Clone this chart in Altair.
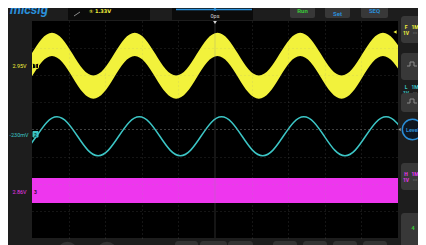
import altair as alt
import pandas as pd

# ---- waveform data (time in divisions, amplitude in divisions) ----
yellow_t = [-5.019, -4.736, -4.454, -4.171, -3.889, -3.606, -3.324, -3.041, -2.758, -2.476,
            -2.193, -1.911, -1.628, -1.345, -1.063, -0.780, -0.498, -0.215, 0.068, 0.350,
            0.633, 0.915, 1.198, 1.481, 1.763, 2.046, 2.328, 2.611, 2.894, 3.176,
            3.459, 3.741, 4.024, 4.306, 4.589, 4.872, 5.154]
yellow_v = [2.35, 2.91, 3.14, 2.91, 2.35, 1.79, 1.56, 1.79, 2.35, 2.91,
            3.14, 2.91, 2.35, 1.79, 1.56, 1.79, 2.35, 2.91, 3.14, 2.91,
            2.35, 1.79, 1.56, 1.79, 2.35, 2.91, 3.14, 2.91, 2.35, 1.79,
            1.56, 1.79, 2.35, 2.91, 3.14, 2.91, 2.35]

cyan_t = [-5.160, -4.879, -4.598, -4.317, -4.036, -3.755, -3.474, -3.193, -2.912, -2.631,
          -2.350, -2.069, -1.788, -1.507, -1.226, -0.945, -0.664, -0.383, -0.102, 0.179,
          0.460, 0.741, 1.022, 1.303, 1.584, 1.865, 2.146, 2.427, 2.708, 2.989,
          3.270, 3.551, 3.832, 4.113, 4.394, 4.675, 4.956, 5.237]
cyan_v = [-0.76, -0.25, 0.26, 0.47, 0.26, -0.25, -0.76, -0.97, -0.76, -0.25,
          0.26, 0.47, 0.26, -0.25, -0.76, -0.97, -0.76, -0.25, 0.26, 0.47,
          0.26, -0.25, -0.76, -0.97, -0.76, -0.25, 0.26, 0.47, 0.26, -0.25,
          -0.76, -0.97, -0.76, -0.25, 0.26, 0.47, 0.26, -0.25]

magenta_t = [-5.0, 5.0]
magenta_hi = [-1.79, -1.79]
magenta_lo = [-2.71, -2.71]

yellow_halfwidth = 0.43

ch_labels = ["2.95V", "-230mV", "2.86V"]
ch_numbers = ["1", "2", "3"]

YEL = "#f2f23c"
CYN = "#3cc6c6"
MAG = "#ee36ee"
BLUE = "#2a8ed8"
GREEN = "#38c838"
BTN = "#383838"
FONT = "Roboto"

OX, OY = 32, 21  # page position of plot origin

xs = alt.Scale(domain=[-5, 5], nice=False, zero=False)
ys = alt.Scale(domain=[-4, 4], nice=False, zero=False)
xa = alt.Axis(values=[-4, -3, -2, -1, 1, 2, 3, 4], labels=False, ticks=False, domain=False,
              title=None, grid=True, gridColor="#9a9a9a", gridOpacity=0.28,
              gridDash=[1, 3], zindex=1)
ya = alt.Axis(values=[-3, -2, -1, 1, 2, 3], labels=False, ticks=False, domain=False,
              title=None, grid=True, gridColor="#9a9a9a", gridOpacity=0.28,
              gridDash=[1, 3], zindex=1)

def X(f):
    return alt.X(f, type="quantitative", scale=xs, axis=xa)

def Y(f):
    return alt.Y(f, type="quantitative", scale=ys, axis=ya)

yellow = alt.Chart(pd.DataFrame({"t": yellow_t, "v": yellow_v})).transform_calculate(
    hi=f"datum.v + {yellow_halfwidth}", lo=f"datum.v - {yellow_halfwidth}"
).mark_area(color=YEL, interpolate="natural", clip=True).encode(
    x=X("t"), y=Y("hi"), y2="lo:Q")

cyan = alt.Chart(pd.DataFrame({"t": cyan_t, "v": cyan_v})).mark_line(
    color=CYN, strokeWidth=1.5, interpolate="natural", clip=True).encode(
    x=X("t"), y=Y("v"))

magenta = alt.Chart(pd.DataFrame({"t": magenta_t, "hi": magenta_hi, "lo": magenta_lo})).mark_area(
    color=MAG, clip=True).encode(x=X("t"), y=Y("hi"), y2="lo:Q")

vcenter = alt.Chart(pd.DataFrame({"t": [0]})).mark_rule(
    color="#8a8a8a", opacity=0.3, strokeWidth=1).encode(x=X("t"))
hcenter = alt.Chart(pd.DataFrame({"v": [0]})).mark_rule(
    color="#8a8a8a", opacity=0.45, strokeWidth=1, strokeDash=[2, 2]).encode(y=Y("v"))

D = alt.Data(values=[{"a": 1}])

def box(x1, y1, x2, y2, fill, r=0, stroke=None, sw=0):
    kw = dict(color=fill, cornerRadius=r)
    if stroke:
        kw.update(stroke=stroke, strokeWidth=sw)
    return alt.Chart(D).mark_rect(**kw).encode(
        x=alt.value(x1 - OX), x2=alt.value(x2 - OX),
        y=alt.value(y1 - OY), y2=alt.value(y2 - OY))

def txt(s, x, y, color, size, align="center", weight="normal", style="normal",
        font=FONT, baseline="middle"):
    return alt.Chart(D).mark_text(text=s, color=color, fontSize=size, align=align,
                                  baseline=baseline, fontWeight=weight, fontStyle=style,
                                  font=font).encode(x=alt.value(x - OX), y=alt.value(y - OY))

def seg(x1, y1, x2, y2, color, w=1):
    return alt.Chart(D).mark_rule(color=color, strokeWidth=w).encode(
        x=alt.value(x1 - OX), x2=alt.value(x2 - OX),
        y=alt.value(y1 - OY), y2=alt.value(y2 - OY))

def pt(x, y, shape, size, color, filled=True, sw=1):
    return alt.Chart(D).mark_point(shape=shape, size=size, color=color, filled=filled,
                                   strokeWidth=sw, opacity=1).encode(
        x=alt.value(x - OX), y=alt.value(y - OY))

def pulse(cx, cy, color="#8c8c8c"):
    return [seg(cx - 5, cy + 2, cx - 2, cy + 2, color), seg(cx - 2, cy + 2, cx - 2, cy - 2, color),
            seg(cx - 2, cy - 2, cx + 2, cy - 2, color), seg(cx + 2, cy - 2, cx + 2, cy + 2, color),
            seg(cx + 2, cy + 2, cx + 5, cy + 2, color)]

deco = []
# top bar
deco += [txt("micsig", 10, 14, BLUE, 13, align="left", weight="bold", style="italic",
             baseline="alphabetic")]
deco += [box(68, 0, 150, 20, "#0b0b0b"), seg(74, 16, 80, 12, "#8a8a8a"),
         txt("① 1.33V", 89, 10.5, YEL, 5, align="left", font="DejaVu Sans", weight="bold")]
deco += [box(172, 0, 253, 20, "#0b0b0b"), seg(176, 9.5, 252, 9.5, BLUE, 1.5),
         pt(215, 9.5, "circle", 8, BLUE),
         txt("0ps", 215, 15.5, "#cfcfcf", 5.5)]
deco += [box(290, 0, 315, 18, BTN, r=2), txt("Run", 302.5, 10.5, GREEN, 6, weight="bold"),
         box(325, 0, 350, 18, BTN, r=2), txt("Set", 337.5, 14, BLUE, 6, weight="bold"),
         box(361, 0, 388, 18, BTN, r=2), txt("SEQ", 374.5, 10.5, BLUE, 6, weight="bold")]
deco += [pt(215, 22.5, "triangle-down", 14, "#d8d8d8")]
deco += [pt(395, 32, "triangle-left", 14, YEL)]

# left channel labels and markers
deco += [txt(ch_labels[0], 19.5, 66, YEL, 5.5),
         box(32.5, 63.5, 38.5, 68.5, "#000000", r=1, stroke=YEL, sw=1),
         txt(ch_numbers[0], 35.5, 66.2, YEL, 5, weight="bold")]
deco += [txt(ch_labels[1], 19, 134.5, CYN, 5.5),
         box(32.5, 131, 38.5, 137.5, CYN, r=1),
         txt(ch_numbers[1], 35.5, 134.5, "#0a3a3a", 5, weight="bold")]
deco += [txt(ch_labels[2], 19.5, 191.5, MAG, 5.5),
         box(32.5, 189, 38.5, 194, MAG, r=1),
         txt(ch_numbers[2], 35.5, 191.6, "#3a0a3a", 5, weight="bold")]

# right panel
def chtext(letter, y, color):
    return [txt(letter, 406, y, color, 5, weight="bold"), txt("1M", 415, y, color, 5, weight="bold"),
            txt("1V", 406, y + 6, color, 5, weight="bold"), txt("==", 415, y + 6, "#666666", 4)]

deco += [box(401, 16, 432, 43, BTN, r=3)] + chtext("F", 27, YEL)
deco += [box(401, 53, 432, 80, BTN, r=3)] + pulse(412, 64)
deco += chtext("L", 86.5, CYN)
deco += [box(401, 93, 432, 112, BTN, r=3)] + pulse(412, 101)
deco += [pt(412.5, 129.5, "circle", 415, "#0e1620"),
         pt(412.5, 129.5, "circle", 415, BLUE, filled=False, sw=1.5),
         txt("Level", 412.5, 129.5, BLUE, 5.5, weight="bold"),
         pt(399.5, 129.5, "triangle-left", 8, "#9a9a9a")]
deco += [box(401, 163, 432, 190, BTN, r=3)] + chtext("H", 173.5, MAG)
deco += [box(401, 213, 432, 250, BTN, r=3), txt("4", 413, 228, GREEN, 6, weight="bold")]

# bottom buttons
deco += [pt(67.5, 251.5, "circle", 380, "#333333"), pt(107, 251.5, "circle", 380, "#333333")]
for a, b in [(175, 198), (200, 227), (228, 253), (273, 297), (303, 327), (333, 357), (363, 387)]:
    deco.append(box(a, 241, b, 256, "#333333", r=3))

chart = alt.layer(yellow, cyan, magenta, vcenter, hcenter, *deco).properties(
    width=366, height=217, background="#1d1d1d",
    padding={"left": 24, "top": 13, "right": 20, "bottom": 7},
    autosize=alt.AutoSizeParams(type="none"),
).configure_view(fill="#000000", stroke=None, strokeWidth=0)

chart.save("out.html", embed_options={"renderer": "svg", "actions": False})
